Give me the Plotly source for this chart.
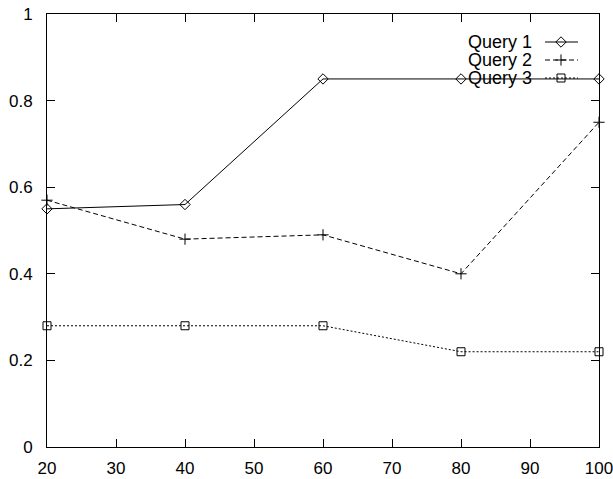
import plotly.graph_objects as go

x_vals = [20, 40, 60, 80, 100]
query1 = [0.55, 0.56, 0.85, 0.85, 0.85]
query2 = [0.57, 0.48, 0.49, 0.40, 0.75]
query3 = [0.28, 0.28, 0.28, 0.22, 0.22]
names = ["Query 1", "Query 2", "Query 3"]
x_ticks = [20, 30, 40, 50, 60, 70, 80, 90, 100]
y_ticks = [0, 0.2, 0.4, 0.6, 0.8, 1]
y_tick_labels = ["0", "0.2", "0.4", "0.6", "0.8", "1"]

styles = [
    dict(dash="solid", symbol="diamond-open", size=8),
    dict(dash="5px,3px", symbol="cross-thin-open", size=8),
    dict(dash="2px,2px", symbol="square-open", size=8),
]

FONT = "Liberation Sans, Arial, sans-serif"
fig = go.Figure()
for name, ys, st in zip(names, [query1, query2, query3], styles):
    fig.add_trace(go.Scatter(
        x=x_vals, y=ys, mode="lines+markers", name=name,
        line=dict(color="black", width=1, dash=st["dash"]),
        marker=dict(symbol=st["symbol"], size=st["size"], color="black",
                    line=dict(color="black", width=1)),
        showlegend=False, cliponaxis=False,
    ))

# gnuplot-style key (text left, sample right) on an overlay pixel axis
key_y = [42, 60, 78]
for name, ky, st in zip(names, key_y, styles):
    fig.add_trace(go.Scatter(
        x=[545, 578], y=[ky, ky], mode="lines", xaxis="x2", yaxis="y2",
        line=dict(color="black", width=1, dash=st["dash"]), showlegend=False,
        hoverinfo="skip",
    ))
    fig.add_trace(go.Scatter(
        x=[561], y=[ky], mode="markers", xaxis="x2", yaxis="y2",
        marker=dict(symbol=st["symbol"], size=st["size"], color="black",
                    line=dict(color="black", width=1)),
        showlegend=False, hoverinfo="skip",
    ))
    fig.add_annotation(x=534, y=ky, xref="x2", yref="y2", text=name,
                       showarrow=False, xanchor="right", yanchor="middle",
                       font=dict(family=FONT, size=18, color="black"))

fig.update_layout(
    width=613, height=479,
    margin=dict(l=47, r=14, t=14, b=32),
    paper_bgcolor="white", plot_bgcolor="white",
    font=dict(family=FONT, size=17, color="black"),
    xaxis=dict(range=[20, 100], tickvals=x_ticks, ticks="inside", ticklen=8,
               tickcolor="black", showline=True, linecolor="black", linewidth=1,
               mirror="ticks", showgrid=False, zeroline=False, automargin=False,
               ticklabelstandoff=6, ticklabeloverflow="allow",
               tickfont=dict(family=FONT, size=17)),
    yaxis=dict(range=[0, 1], tickvals=y_ticks, ticktext=y_tick_labels,
               ticks="inside", ticklen=8, tickcolor="black", showline=True,
               linecolor="black", linewidth=1, mirror="ticks", showgrid=False,
               zeroline=False, automargin=False, ticklabelstandoff=10,
               ticklabeloverflow="allow",
               tickfont=dict(family=FONT, size=17)),
    xaxis2=dict(range=[47, 599], overlaying="x", visible=False, domain=[0, 1]),
    yaxis2=dict(range=[447, 14], overlaying="y", visible=False, domain=[0, 1]),
)

fig.write_html("out.html", config={"displayModeBar": False},
               post_script="document.body.style.margin='0';document.body.style.overflow='hidden';")
